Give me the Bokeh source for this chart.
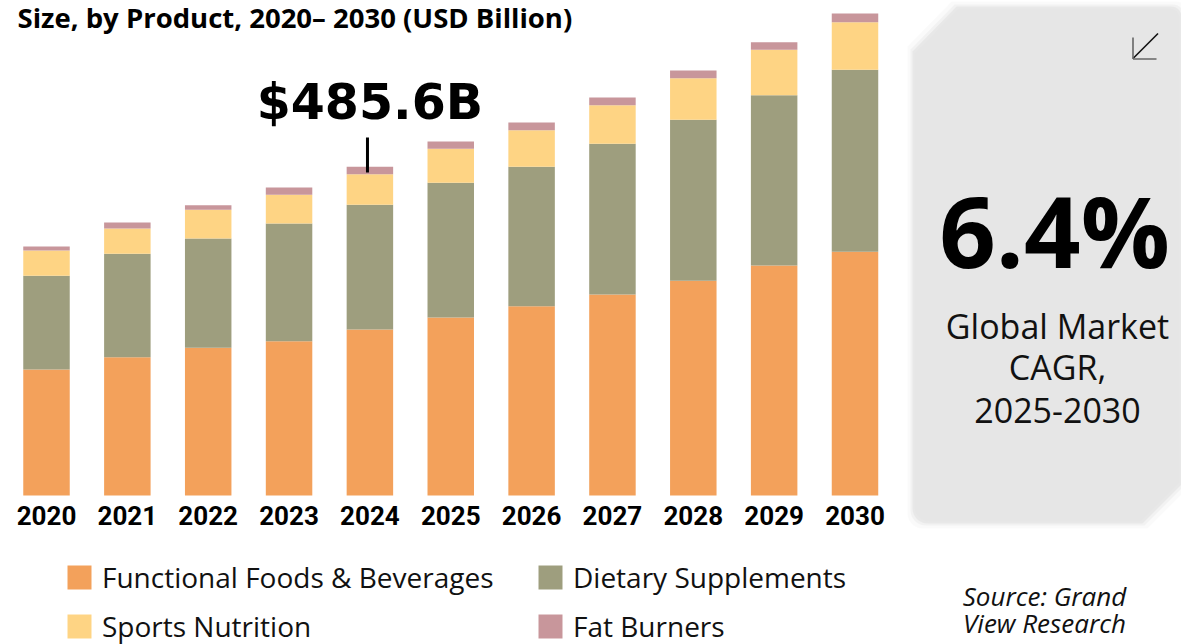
from bokeh.plotting import figure
from bokeh.models import ColumnDataSource, Range1d, LinearAxis, FixedTicker, Legend, LegendItem
from bokeh.embed import file_html
from bokeh.resources import INLINE
from bokeh.core.properties import value
import math

# ---------------- data ----------------
years = [2020, 2021, 2022, 2023, 2024, 2025, 2026, 2027, 2028, 2029, 2030]
year_labels = ["2020", "2021", "2022", "2023", "2024", "2025", "2026", "2027", "2028", "2029", "2030"]
functional = [186.1, 204.3, 218.2, 228.0, 245.2, 263.0, 279.7, 296.9, 317.2, 339.8, 360.0]
dietary = [138.4, 152.8, 161.5, 173.9, 184.2, 199.0, 205.9, 222.6, 237.8, 251.6, 268.9]
sports = [37.4, 37.4, 42.4, 42.4, 45.3, 50.2, 54.1, 57.0, 61.5, 67.1, 70.3]
fat_burners = [5.9, 8.9, 6.8, 10.8, 10.9, 10.8, 11.4, 11.4, 11.4, 11.2, 12.9]
series_names = ["Functional Foods & Beverages", "Dietary Supplements", "Sports Nutrition", "Fat Burners"]
series_colors = ["#F3A15B", "#9E9E7E", "#FED484", "#C8969B"]
highlight_year = 2024
highlight_label = "$485.6B"
title_text = "Size, by Product, 2020\u2013 2030 (USD Billion)"
cagr_value = "6.4%"
cagr_lines = ["Global Market", "CAGR,", "2025-2030"]
source_lines = ["Source: Grand", "View Research"]

# ---------------- layout ----------------
W, H = 1181, 644
first_center_px = 46.0
px_per_year = 80.85
baseline_px = 495.0
px_per_unit = 328.7 / 485.6

x0 = years[0] - first_center_px / px_per_year
x1 = x0 + W / px_per_year
y0 = -(H - baseline_px) / px_per_unit
y1 = y0 + H / px_per_unit

p = figure(width=W, height=H, x_range=Range1d(x0, x1), y_range=Range1d(y0, y1),
           output_backend="svg", toolbar_location=None,
           x_axis_location=None, y_axis_location=None, min_border=0,
           outline_line_color=None, background_fill_color="white")
p.grid.visible = False
p.extra_x_ranges = {"px": Range1d(0, W)}
p.extra_y_ranges = {"px": Range1d(H, 0)}


def box_shape(L, T, R, B):
    xs, ys = [], []
    xs += [L, L + 44]
    ys += [T + 45, T]
    r = 10
    for i in range(9):
        a = math.pi / 2 - i * (math.pi / 2) / 8
        xs.append(R - r + r * math.cos(a))
        ys.append(T + r - r * math.sin(a))
    xs += [R, R - 39]
    ys += [B - 39, B]
    r = 15
    for i in range(9):
        a = -math.pi / 2 - i * (math.pi / 2) / 8
        xs.append(L + r + r * math.cos(a))
        ys.append(B - r - r * math.sin(a))
    return xs, ys


# shadow + panel
for d, a in [(7, 0.02), (4, 0.03), (2, 0.04)]:
    sx, sy = box_shape(914 - d, 8 - d, 1179 + d, 521 + d)
    p.patch(sx, sy, x_range_name="px", y_range_name="px", fill_color="#000000",
            fill_alpha=a, line_color=None)
bx, by = box_shape(914, 8, 1179, 521)
p.patch(bx, by, x_range_name="px", y_range_name="px", fill_color="#E6E6E6", line_color=None)

# arrow icon
p.segment(x0=[1157.5], y0=[33], x1=[1132.5], y1=[58], x_range_name="px", y_range_name="px",
          line_color="#111111", line_width=1.6)
p.segment(x0=[1132.5, 1132.5], y0=[37, 58.5], x1=[1132.5, 1156], y1=[58.5, 58.5],
          x_range_name="px", y_range_name="px", line_color="#666666", line_width=1.6)

# bars
source = ColumnDataSource(dict(year=years, f=functional, d=dietary, s=sports, b=fat_burners))
renderers = p.vbar_stack(["f", "d", "s", "b"], x="year", width=0.575, color=series_colors,
                         line_color=None, source=source)

# x axis with years
xaxis = LinearAxis(fixed_location=0, ticker=FixedTicker(ticks=years),
                   major_label_overrides={y: l for y, l in zip(years, year_labels)})
xaxis.axis_line_color = None
xaxis.major_tick_line_color = None
xaxis.minor_tick_line_color = None
xaxis.major_label_standoff = 4
xaxis.major_label_text_font = "Roboto"
xaxis.major_label_text_font_style = "bold"
xaxis.major_label_text_font_size = "26px"
xaxis.major_label_text_color = "#000000"
p.add_layout(xaxis, "below")

# title
p.text(x=[17], y=[17], text=[title_text], x_range_name="px", y_range_name="px",
       text_font=value("Open Sans"), text_font_style="bold", text_font_size="27.5px",
       text_color="#000000", text_align="left", text_baseline="middle")

# highlight annotation
p.text(x=[highlight_year], y=[102], text=[highlight_label], y_range_name="px",
       text_font=value("DejaVu Sans"), text_font_style="bold", text_font_size="49px",
       text_color="#000000", text_align="center", text_baseline="middle")
p.segment(x0=[highlight_year - 0.03], y0=[137], x1=[highlight_year - 0.03], y1=[172],
          y_range_name="px", line_color="#000000", line_width=3)

# CAGR panel text
p.text(x=[1054], y=[229], text=[cagr_value], x_range_name="px", y_range_name="px",
       text_font=value("Open Sans"), text_font_style="bold", text_font_size="99px",
       text_color="#000000", text_align="center", text_baseline="middle")
p.text(x=[1057] * 3, y=[325, 366, 410], text=cagr_lines, x_range_name="px", y_range_name="px",
       text_font=value("Open Sans"), text_font_size="34px",
       text_color="#111111", text_align="center", text_baseline="middle")

# source
p.text(x=[1044, 1044], y=[595, 622], text=source_lines, x_range_name="px", y_range_name="px",
       text_font=value("Open Sans"), text_font_style="italic", text_font_size="26px",
       text_color="#111111", text_align="center", text_baseline="middle")

# legends
common = dict(orientation="vertical", glyph_width=30, glyph_height=30, label_standoff=8,
              padding=0, margin=0, border_line_color=None, background_fill_alpha=0,
              label_text_font="Open Sans", label_text_font_size="28px",
              label_text_color="#111111", label_height=30, spacing=11)
leg1 = Legend(items=[LegendItem(label=series_names[0], renderers=[renderers[0]]),
                     LegendItem(label=series_names[2], renderers=[renderers[2]])],
              location=(64, -1), **common)
leg2 = Legend(items=[LegendItem(label=series_names[1], renderers=[renderers[1]]),
                     LegendItem(label=series_names[3], renderers=[renderers[3]])],
              location=(535, -1), **common)
p.add_layout(leg1)
p.add_layout(leg2)

open("out.html", "w").write(file_html(p, INLINE))
